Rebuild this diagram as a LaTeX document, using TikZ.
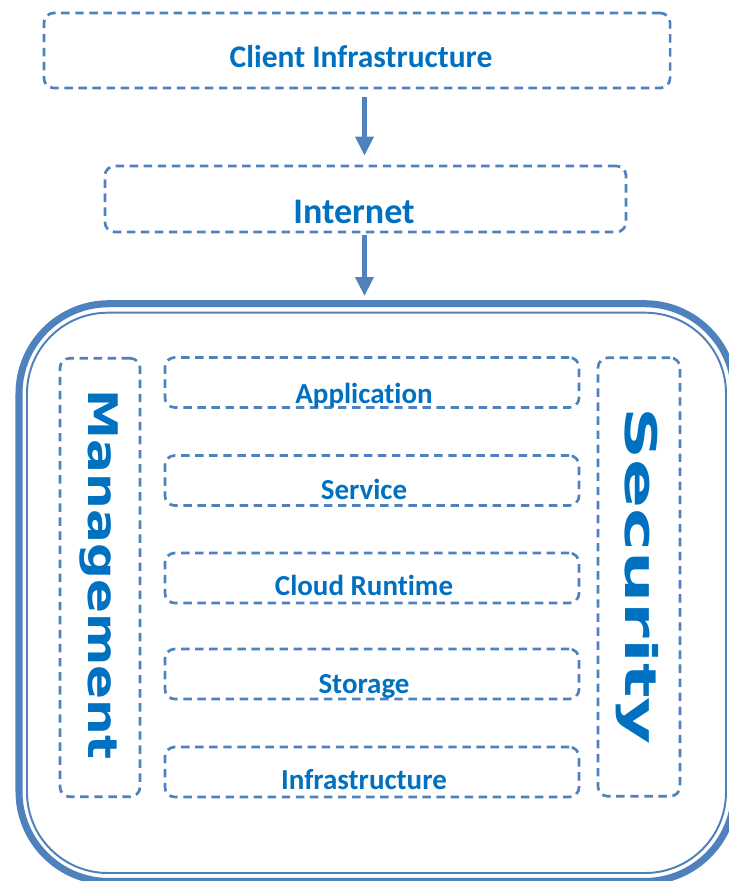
\documentclass[tikz,border=0pt]{standalone}
\usepackage{fontspec}
\setmainfont[Ligatures=NoCommon]{Carlito}
\newfontfamily\widefont{DejaVu Sans}
\usepackage{tikz}
\usetikzlibrary{arrows.meta}

\definecolor{lineblue}{HTML}{4F81BD}
\definecolor{textblue}{HTML}{0070C0}

\tikzset{
  dbox/.style={draw=lineblue, line width=1.9pt, dash pattern=on 6pt off 4pt,
               rounded corners=7pt, inner sep=0pt},
  layerbox/.style={dbox, minimum width=10.35cm, minimum height=1.25cm},
  sidebox/.style={dbox, minimum height=10.96cm},
  layertext/.style={text=textblue, anchor=base,
                    font=\bfseries\fontsize{20.6pt}{24pt}\selectfont},
  sidetext/.style={text=textblue, anchor=base, rotate=-90,
                   font=\widefont\bfseries\fontsize{29pt}{34pt}\selectfont},
  frame/.style={draw=lineblue},
  flow/.style={draw=lineblue, line width=3.6pt,
               -{Triangle[length=13.5pt,width=12.5pt]}}
}

\begin{document}
\begin{tikzpicture}[x=0.025cm, y=-0.025cm]
\useasboundingbox (0,0) rectangle (729,881);
\clip (0,0) rectangle (729,881);

% top boxes
\node[dbox, minimum width=15.65cm, minimum height=1.875cm] (client) at (357,50.5) {};
\node[layertext, font=\bfseries\fontsize{22.4pt}{26pt}\selectfont] (clienttext) at (361,67) {Client Infrastructure};
\node[dbox, minimum width=13.025cm, minimum height=1.65cm] (internet) at (365.5,199) {};
\node[layertext, font=\bfseries\fontsize{25.6pt}{30pt}\selectfont] (internettext) at (354,223) {Internet};

\coordinate (arrA) at (364.5,97);
\coordinate (arrB) at (364.5,235);
\coordinate (cloudtop) at (364.5,296);
\draw[flow, shorten >=6.4pt] (arrA) -- (arrA |- internet.north);
\draw[flow] (arrB) -- (cloudtop);

% cloud frame
\draw[frame, line width=5pt, rounded corners=2.25cm] (19,303.7) rectangle (734.5,881.5);
\draw[frame, line width=1.4pt, rounded corners=2.02cm] (27,312.7) rectangle (726,873);

% side columns
\node[sidebox, minimum width=2.0cm] (mgmt) at (100,577.5) {};
\node[sidetext, xscale=1.23] (mgmttext) at (88,574.5) {Management};
\node[sidebox, minimum width=2.05cm] (security) at (639,577) {};
\node[sidetext, xscale=1.66, font=\widefont\bfseries\fontsize{31pt}{36pt}\selectfont] (sectext) at (625,576) {Security};

% layers
\node[layerbox] (app) at (372,382.5) {};
\node[layertext] (apptext) at (364,403) {Application};
\node[layerbox] (service) at (372,480.5) {};
\node[layertext] (servicetext) at (364,499) {Service};
\node[layerbox] (runtime) at (372,578) {};
\node[layertext] (runtimetext) at (364,595) {Cloud Runtime};
\node[layerbox] (storage) at (372,674) {};
\node[layertext] (storagetext) at (364,693) {Storage};
\node[layerbox] (infra) at (372,772) {};
\node[layertext] (infratext) at (364,789) {Infrastructure};
\end{tikzpicture}
\end{document}
